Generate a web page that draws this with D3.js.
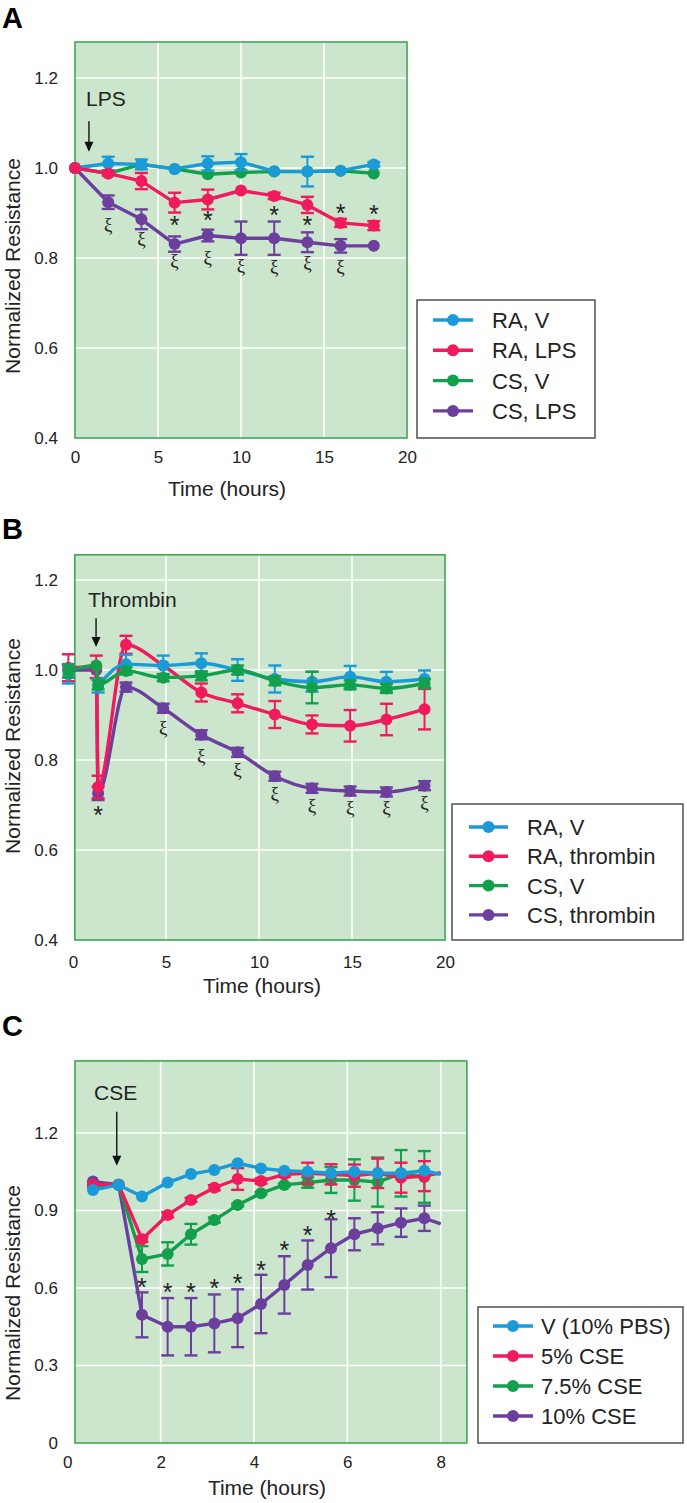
<!DOCTYPE html>
<html lang="en">
<head>
<meta charset="UTF-8">
<title>Normalized Resistance</title>
<script src="https://cdnjs.cloudflare.com/ajax/libs/d3/7.8.5/d3.min.js"></script>
<style>
    body { margin: 0; background: #fff; }
    text { font-family: "Liberation Sans", Arial, Helvetica, sans-serif; fill: #222; }
    .tick text { font-size: 17px; }
</style>
</head>
<body>
<script>
    // ---------- Panel A : LPS ----------
    const timesA = [0, 2, 4, 6, 8, 10, 12, 14, 16, 18];
    const raV_A = [1.0, 1.01, 1.008, 0.998, 1.01, 1.013, 0.993, 0.992, 0.994, 1.008];
    const raV_Aerr = [0, 0.015, 0.011, 0.003, 0.016, 0.018, 0.003, 0.033, 0.004, 0.005];
    const raLPS = [1.0, 0.988, 0.971, 0.923, 0.930, 0.950, 0.938, 0.918, 0.878, 0.872];
    const raLPSerr = [0, 0.005, 0.018, 0.022, 0.022, 0.004, 0.007, 0.018, 0.009, 0.01];
    const csV_A = [1.0, 0.988, 1.008, 0.998, 0.986, 0.99, 0.992, 0.992, 0.994, 0.988];
    const csV_Aerr = [0, 0.003, 0.004, 0.003, 0.004, 0.003, 0.003, 0.003, 0.003, 0.003];
    const csLPS = [1.0, 0.924, 0.886, 0.831, 0.850, 0.844, 0.844, 0.835, 0.827, 0.827];
    const csLPSerr = [0, 0.015, 0.022, 0.017, 0.013, 0.037, 0.037, 0.022, 0.015, 0];
    const starsA = [[6, 0.884], [8, 0.895], [12, 0.907], [14, 0.884], [16, 0.911], [18, 0.909]];
    const xiA = [[2, 0.870], [4, 0.838], [6, 0.789], [8, 0.796], [10, 0.778], [12, 0.776], [14, 0.784], [16, 0.776]];
    const legendA = ["RA, V", "RA, LPS", "CS, V", "CS, LPS"];

    // ---------- Panel B : thrombin ----------
    const timesB = [-0.25, 1.25, 1.35, 2.85, 4.85, 6.9, 8.85, 10.85, 12.85, 14.9, 16.85, 18.9];
    const raV_B = [0.99, null, 0.965, 1.013, 1.01, 1.015, 1.0, 0.98, 0.974, 0.985, 0.974, 0.98];
    const raV_Berr = [0.02, 0, 0.015, 0.021, 0.022, 0.022, 0.024, 0.03, 0.022, 0.024, 0.022, 0.019];
    const raThr = [1.005, 1.007, 0.74, 1.056, 1.01, 0.95, 0.926, 0.901, 0.879, 0.876, 0.89, 0.913];
    const raThrErr = [0.03, 0.025, 0.025, 0.02, 0, 0.02, 0.02, 0.03, 0.02, 0.035, 0.035, 0.045];
    const csV_B = [0.998, 1.01, 0.967, 0.998, 0.983, 0.987, 1.0, 0.976, 0.961, 0.967, 0.959, 0.97];
    const csV_Berr = [0.015, 0, 0.01, 0.008, 0.008, 0.01, 0.01, 0.01, 0.035, 0.01, 0.01, 0.01];
    const csThr = [1.0, 1.0, 0.726, 0.962, 0.915, 0.856, 0.817, 0.764, 0.737, 0.731, 0.729, 0.743];
    const csThrErr = [0, 0, 0.015, 0.01, 0.01, 0.01, 0.01, 0.01, 0.01, 0.01, 0.01, 0.01];
    const starsB = [[1.35, 0.689]];
    const xiB = [[4.85, 0.867], [6.9, 0.804], [8.85, 0.774], [10.85, 0.719], [12.85, 0.693], [14.9, 0.689], [16.85, 0.689], [18.9, 0.70]];
    const legendB = ["RA, V", "RA, thrombin", "CS, V", "CS, thrombin"];

    // ---------- Panel C : CSE ----------
    const timesC = [0.55, 1.1, 1.6, 2.15, 2.65, 3.15, 3.65, 4.15, 4.65, 5.15, 5.65, 6.15, 6.65, 7.15, 7.65];
    const tailTimeC = 8.0;
    const vehC = [0.979, 0.999, 0.954, 1.008, 1.041, 1.057, 1.083, 1.063, 1.054, 1.05, 1.044, 1.05, 1.044, 1.044, 1.054];
    const vehCerr = [0, 0, 0, 0, 0, 0, 0, 0, 0, 0, 0, 0, 0, 0, 0];
    const vehTail = 1.04;
    const cse5 = [1.0, 1.0, 0.789, 0.883, 0.941, 0.988, 1.022, 1.014, 1.04, 1.044, 1.04, 1.035, 1.044, 1.027, 1.033];
    const cse5err = [0, 0, 0.01, 0.01, 0.008, 0.01, 0.042, 0.01, 0.01, 0.041, 0.039, 0.043, 0.057, 0.058, 0.058];
    const cse5Tail = 1.046;
    const cse75 = [0.993, 1.0, 0.712, 0.732, 0.808, 0.863, 0.921, 0.967, 0.999, 1.008, 1.018, 1.018, 1.01, 1.044, 1.03];
    const cse75err = [0, 0, 0.05, 0.045, 0.04, 0.01, 0.005, 0.005, 0.005, 0.02, 0.05, 0.08, 0.095, 0.09, 0.1];
    const cse75Tail = null;
    const cse10 = [1.012, 1.0, 0.496, 0.45, 0.45, 0.463, 0.483, 0.538, 0.612, 0.689, 0.754, 0.808, 0.831, 0.853, 0.87];
    const cse10err = [0, 0, 0.087, 0.111, 0.111, 0.112, 0.112, 0.113, 0.111, 0.095, 0.112, 0.062, 0.062, 0.055, 0.049];
    const cse10Tail = 0.848;
    const starsC = [[1.6, 0.624], [2.15, 0.605], [2.65, 0.604], [3.15, 0.619], [3.65, 0.639], [4.15, 0.689], [4.65, 0.767], [5.15, 0.825], [5.65, 0.887]];
    const legendC = ["V (10% PBS)", "5% CSE", "7.5% CSE", "10% CSE"];

    const blue = "#1b9ad8", red = "#f01a5c", green = "#12a04c", purple = "#6c3f9f";

    const svg = d3.select("body").append("svg")
        .attr("width", 687)
        .attr("height", 1503);

    function series(name, color, t, v, e, tail) {
        let pts = t.map((d, i) => ({t: d, v: v[i], e: e[i], m: true}));
        if (tail != null) pts.push({t: tailTimeC, v: tail, e: 0, m: false});
        return {name: name, color: color, pts: pts};
    }

    function drawPanel(p) {
        let x = d3.scaleLinear().domain(p.xDomain).range(p.xRange);
        let y = d3.scaleLinear().domain(p.yDomain).range(p.yRange);
        let g = svg.append("g");

        let fx0 = x(p.frameX[0]), fx1 = x(p.frameX[1]);
        let fy0 = y(p.frameY[1]), fy1 = y(p.frameY[0]);

        g.append("rect")
            .attr("x", fx0).attr("y", fy0)
            .attr("width", fx1 - fx0).attr("height", fy1 - fy0)
            .attr("fill", "#cbe6cd");

        // grid
        g.selectAll(".gx").data(p.gridX).enter().append("line")
            .attr("x1", d => x(d)).attr("x2", d => x(d))
            .attr("y1", fy0).attr("y2", fy1)
            .attr("stroke", "#fff").attr("stroke-width", 1.6);
        g.selectAll(".gy").data(p.gridY).enter().append("line")
            .attr("x1", fx0).attr("x2", fx1)
            .attr("y1", d => y(d)).attr("y2", d => y(d))
            .attr("stroke", "#fff").attr("stroke-width", 1.6);

        g.append("rect")
            .attr("x", fx0).attr("y", fy0)
            .attr("width", fx1 - fx0).attr("height", fy1 - fy0)
            .attr("fill", "none").attr("stroke", "#3fa757").attr("stroke-width", 1.6);

        // axes
        let xa = g.append("g")
            .attr("transform", "translate(0," + fy1 + ")")
            .call(d3.axisBottom(x).tickValues(p.xTicks).tickSize(0).tickPadding(p.xPad).tickFormat(d3.format("d")));
        xa.select(".domain").remove();
        let ya = g.append("g")
            .attr("transform", "translate(" + fx0 + ",0)")
            .call(d3.axisLeft(y).tickValues(p.yTicks).tickSize(0).tickPadding(17)
                .tickFormat(d => d === 0 ? "0" : d.toFixed(1)));
        ya.select(".domain").remove();
        g.selectAll(".tick text").attr("font-family", "Liberation Sans, Arial, sans-serif");

        g.append("text")
            .attr("x", p.xTitle[0]).attr("y", p.xTitle[1])
            .attr("text-anchor", "middle")
            .style("font-size", "21px")
            .text("Time (hours)");
        g.append("text")
            .attr("transform", "translate(20," + p.yTitleY + ") rotate(-90)")
            .attr("text-anchor", "middle")
            .style("font-size", "21px")
            .text("Normalized Resistance");

        g.append("text")
            .attr("x", 2).attr("y", p.letterY)
            .style("font-size", "29px").style("font-weight", "bold")
            .style("fill", "#000")
            .text(p.letter);

        // treatment label and arrow
        let ax = x(p.arrow.t);
        g.append("text")
            .attr("x", p.label.x).attr("y", p.label.y)
            .style("font-size", "21px")
            .text(p.label.text);
        g.append("line")
            .attr("x1", ax).attr("x2", ax)
            .attr("y1", y(p.arrow.v0)).attr("y2", y(p.arrow.v1) - 8)
            .attr("stroke", "#111").attr("stroke-width", 1.4);
        g.append("path")
            .attr("d", "M" + (ax - 4.5) + "," + (y(p.arrow.v1) - 10) + "L" + (ax + 4.5) + "," + (y(p.arrow.v1) - 10) + "L" + ax + "," + y(p.arrow.v1) + "Z")
            .attr("fill", "#111");

        // series
        let line = d3.line()
            .defined(d => d.v != null)
            .x(d => x(d.t)).y(d => y(d.v))
            .curve(p.curve);

        p.series.forEach(s => {
            let sg = g.append("g");
            sg.append("path")
                .datum(s.pts)
                .attr("d", line)
                .attr("fill", "none")
                .attr("stroke", s.color)
                .attr("stroke-width", 3.4)
                .attr("stroke-linejoin", "round");
            let eb = s.pts.filter(d => d.v != null && d.m && d.e > 0.004);
            sg.selectAll(".eb").data(eb).enter().append("line")
                .attr("x1", d => x(d.t)).attr("x2", d => x(d.t))
                .attr("y1", d => y(d.v - d.e)).attr("y2", d => y(d.v + d.e))
                .attr("stroke", s.color).attr("stroke-width", 2);
            sg.selectAll(".cap").data(eb.flatMap(d => [{t: d.t, v: d.v - d.e}, {t: d.t, v: d.v + d.e}]))
                .enter().append("line")
                .attr("x1", d => x(d.t) - 6.5).attr("x2", d => x(d.t) + 6.5)
                .attr("y1", d => y(d.v)).attr("y2", d => y(d.v))
                .attr("stroke", s.color).attr("stroke-width", 2.4);
            sg.selectAll("circle").data(s.pts.filter(d => d.v != null && d.m)).enter().append("circle")
                .attr("cx", d => x(d.t)).attr("cy", d => y(d.v))
                .attr("r", 6)
                .attr("fill", s.color);
        });

        // significance marks
        g.selectAll(".star").data(p.stars).enter().append("text")
            .attr("x", d => x(d[0])).attr("y", d => y(d[1]) + 14)
            .attr("text-anchor", "middle")
            .style("font-size", "25px")
            .text("*");
        g.selectAll(".xi").data(p.xi).enter().append("text")
            .attr("x", d => x(d[0])).attr("y", d => y(d[1]) + 4)
            .attr("text-anchor", "middle")
            .style("font-family", "Liberation Serif, Times New Roman, serif")
            .style("font-size", "19px")
            .text("\u03be");

        // legend
        let L = p.legend;
        g.append("rect")
            .attr("x", L.x).attr("y", L.y)
            .attr("width", L.w).attr("height", L.h)
            .attr("fill", "#fff").attr("stroke", "#444").attr("stroke-width", 1.4);
        let order = [0, 1, 2, 3];
        let colorsL = [blue, red, green, purple];
        let rows = g.selectAll(".lg").data(order).enter().append("g")
            .attr("transform", d => "translate(0," + (L.row0 + d * L.step) + ")");
        rows.append("line")
            .attr("x1", L.lx0).attr("x2", L.lx1)
            .attr("stroke", d => colorsL[d]).attr("stroke-width", 3.4);
        rows.append("circle")
            .attr("cx", (L.lx0 + L.lx1) / 2).attr("r", 6)
            .attr("fill", d => colorsL[d]);
        rows.append("text")
            .attr("x", L.tx).attr("y", 8)
            .style("font-size", "22px")
            .text(d => L.names[d]);
    }

    drawPanel({
        letter: "A", letterY: 28,
        xDomain: [0, 20], xRange: [75, 407],
        yDomain: [0.4, 1.0], yRange: [438, 168],
        frameX: [0, 20], frameY: [0.4, 1.28],
        gridX: [5, 10, 15], gridY: [0.6, 0.8, 1.0, 1.2],
        xTicks: [0, 5, 10, 15, 20], yTicks: [0.4, 0.6, 0.8, 1.0, 1.2],
        xPad: 13, xTitle: [227, 496], yTitleY: 266,
        curve: d3.curveLinear,
        label: {text: "LPS", x: 86, y: 106},
        arrow: {t: 0.84, v0: 1.104, v1: 1.036},
        series: [
            series("CS, V", green, timesA, csV_A, csV_Aerr),
            series("CS, LPS", purple, timesA, csLPS, csLPSerr),
            series("RA, V", blue, timesA, raV_A, raV_Aerr),
            series("RA, LPS", red, timesA, raLPS, raLPSerr)
        ],
        stars: starsA, xi: xiA,
        legend: {x: 417, y: 300, w: 178, h: 138, row0: 320, step: 30.3, lx0: 433, lx1: 473, tx: 492, names: legendA}
    });

    drawPanel({
        letter: "B", letterY: 539,
        xDomain: [0, 20], xRange: [73, 445],
        yDomain: [0.4, 1.0], yRange: [940, 670],
        frameX: [0.1, 20], frameY: [0.4, 1.256],
        gridX: [5, 10, 15], gridY: [0.6, 0.8, 1.0, 1.2],
        xTicks: [0, 5, 10, 15, 20], yTicks: [0.4, 0.6, 0.8, 1.0, 1.2],
        xPad: 16, xTitle: [262, 993], yTitleY: 746,
        curve: d3.curveMonotoneX,
        label: {text: "Thrombin", x: 88, y: 607},
        arrow: {t: 1.24, v0: 1.115, v1: 1.051},
        series: [
            series("CS, thrombin", purple, timesB, csThr, csThrErr),
            series("RA, thrombin", red, timesB, raThr, raThrErr),
            series("RA, V", blue, timesB, raV_B, raV_Berr),
            series("CS, V", green, timesB, csV_B, csV_Berr)
        ],
        stars: starsB, xi: xiB,
        legend: {x: 452, y: 804, w: 231, h: 136, row0: 827, step: 29.3, lx0: 469, lx1: 508, tx: 527, names: legendB}
    });

    drawPanel({
        letter: "C", letterY: 1036,
        xDomain: [0, 8], xRange: [67.3, 440.7],
        yDomain: [0, 1.2], yRange: [1443, 1133],
        frameX: [0.165, 8.56], frameY: [0, 1.479],
        gridX: [2, 4, 6, 8], gridY: [0.3, 0.6, 0.9, 1.2],
        xTicks: [0, 2, 4, 6, 8], yTicks: [0, 0.3, 0.6, 0.9, 1.2],
        xPad: 13, xTitle: [267, 1495], yTitleY: 1293,
        curve: d3.curveLinear,
        label: {text: "CSE", x: 94, y: 1100},
        arrow: {t: 1.06, v0: 1.282, v1: 1.073},
        series: [
            series("10% CSE", purple, timesC, cse10, cse10err, cse10Tail),
            series("7.5% CSE", green, timesC, cse75, cse75err, cse75Tail),
            series("5% CSE", red, timesC, cse5, cse5err, cse5Tail),
            series("V (10% PBS)", blue, timesC, vehC, vehCerr, vehTail)
        ],
        stars: starsC, xi: [],
        legend: {x: 478, y: 1307, w: 205, h: 136, row0: 1326, step: 30, lx0: 493, lx1: 533, tx: 541, names: legendC}
    });
</script>
</body>
</html>
